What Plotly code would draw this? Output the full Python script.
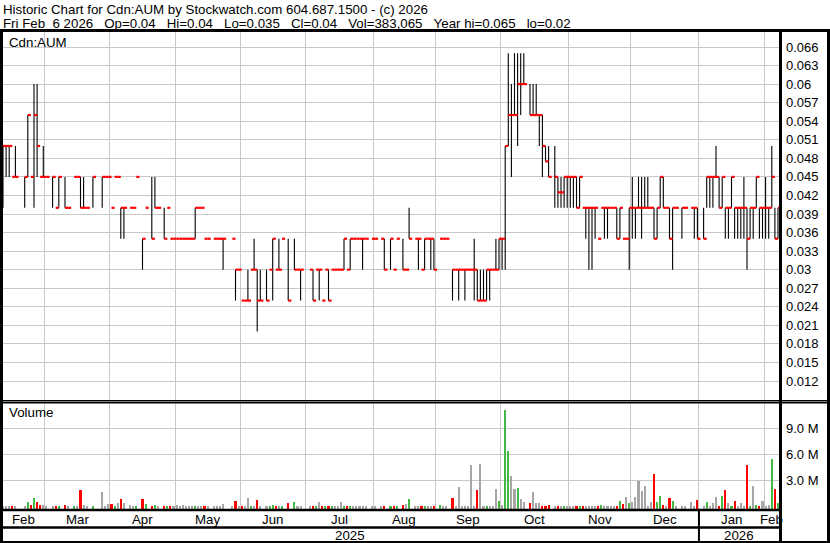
import pandas as pd
import plotly.graph_objects as go

N = None
W, H_PX = 830, 543

# ---------------- data ----------------
HOLIDAYS = ["2025-02-17", "2025-04-18", "2025-05-19", "2025-07-01", "2025-08-04",
            "2025-09-01", "2025-10-13", "2025-12-25", "2026-01-01"]
START_DATE = "2025-02-10"
END_DATE = "2026-02-06"

HIGH = [
    .05, .05, .05, .045, .05, N, N, .045, .055, .045,
    .06, .06, .045, .05, .045, N, .045, .04, .045, N,
    .045, .04, N, .045, .045, .045, .045, .04, N, .045,
    N, N, .045, .045, .045, .04, .045, .045, .04, .04,
    N, .04, .04, .045, N, .035, .04, N, .045, .045,
    .04, N, .04, .04, .035, .035, .035, .035, .035, .035,
    .035, .035, .04, .04, .04, .035, .035, N, .035, .035,
    .035, .035, N, N, .035, .03, .03, .025, .025, .03,
    .03, .035, .03, .03, N, .03, .03, .035, .03, .035,
    .035, N, .035, N, .035, .03, .03, N, N, .03,
    .03, .03, .03, .025, .03, .03, .03, .03, .03, .03,
    .035, .03, .035, .035, .035, .035, .035, .035, N, .035,
    .035, N, .035, .035, N, .035, .03, .035, N, .035,
    .03, .04, N, .035, .035, .03, .035, .035, .035, .035,
    N, .035, .035, .035, N, .03, .03, .03, .03, .03,
    .03, .03, .035, .03, .03, .03, .03, .03, .03, .035,
    .035, .035, .05, .065, .06, .065, .065, .065, .065, N,
    .06, .06, .06, .055, .055, .05, .05, N, .05, .045,
    .045, .045, .045, .045, .045, .045, .045, .04, .04, .04,
    .04, .04, .035, .04, .04, .04, .04, .04, .04, .04,
    .035, .035, .04, .045, .04, .045, .045, .045, .045, .04,
    .04, .04, .045, .045, .04, .04, .04, .04, N, .04,
    .04, N, .04, .04, .04, N, .04, .045, .045, .045,
    .05, .045, .045, .04, .04, .045, .04, .04, .04, .045,
    .04, .04, .04, .045, .04, .04, .045, .04, .05, .04,
    .04,
]

LOW = [
    .04, .045, .045, .045, .045, N, N, .04, .045, .045,
    .04, .045, .045, .045, .045, N, .04, .04, .04, N,
    .04, .04, N, .045, .045, .04, .04, .04, N, .04,
    N, N, .04, .045, .045, .04, .045, .045, .035, .035,
    N, .04, .04, .045, N, .03, .04, N, .035, .04,
    .04, N, .035, .04, .035, .035, .035, .035, .035, .035,
    .035, .035, .035, .04, .04, .035, .035, N, .035, .035,
    .035, .03, N, N, .035, .025, .03, .025, .025, .025,
    .03, .03, .02, .025, N, .025, .03, .025, .03, .03,
    .035, N, .025, N, .03, .03, .025, N, N, .03,
    .025, .03, .025, .025, .03, .025, .03, .03, .03, .03,
    .03, .03, .03, .035, .035, .035, .03, .035, N, .035,
    .035, N, .035, .03, N, .03, .03, .035, N, .03,
    .03, .035, N, .035, .03, .03, .03, .035, .03, .03,
    N, .035, .035, .035, N, .025, .03, .025, .03, .025,
    .03, .03, .025, .025, .025, .025, .025, .025, .03, .03,
    .03, .03, .03, .05, .045, .055, .05, .055, .06, N,
    .055, .055, .055, .05, .045, .0475, .045, N, .04, .04,
    .04, .04, .04, .04, .04, .04, .04, .04, .035, .03,
    .03, .035, .035, .04, .035, .035, .04, .04, .035, .035,
    .035, .035, .03, .035, .035, .04, .035, .04, .04, .04,
    .035, .035, .04, .04, .04, .035, .03, .04, N, .035,
    .04, N, .04, .035, .035, N, .035, .04, .04, .04,
    .045, .04, .04, .035, .035, .04, .035, .035, .035, .035,
    .03, .035, .035, .04, .035, .035, .035, .035, .04, .035,
    .035,
]

CLOSE = [
    .05, .05, .05, .045, .045, N, N, .045, .055, .045,
    .055, .05, .045, .045, .045, N, .045, .04, .045, N,
    .04, .04, N, .045, .045, .04, .04, .04, N, .045,
    N, N, .045, .045, .045, .04, .045, .045, .04, .04,
    N, .04, .04, .045, N, .035, .04, N, .035, .04,
    .04, N, .035, .04, .035, .035, .035, .035, .035, .035,
    .035, .035, .04, .04, .04, .035, .035, N, .035, .035,
    .035, .035, N, N, .035, .03, .03, .025, .025, .025,
    .03, .03, .025, .025, N, .025, .03, .035, .03, .03,
    .035, N, .025, N, .03, .03, .03, N, N, .03,
    .025, .03, .03, .025, .03, .025, .03, .03, .03, .03,
    .035, .03, .035, .035, .035, .035, .035, .035, N, .035,
    .035, N, .035, .03, N, .035, .03, .035, N, .03,
    .03, .035, N, .035, .035, .03, .035, .035, .035, .03,
    N, .035, .035, .035, N, .03, .03, .03, .03, .03,
    .03, .03, .03, .025, .025, .025, .03, .03, .03, .03,
    .035, .035, .05, .055, .055, .055, .06, .06, .06, N,
    .055, .055, .055, .055, .05, .0475, .045, N, .045, .0425,
    .0425, .045, .045, .045, .045, .04, .045, .04, .04, .04,
    .04, .04, .035, .04, .04, .04, .04, .04, .035, .04,
    .035, .035, .04, .04, .04, .04, .04, .04, .04, .04,
    .035, .04, .045, .04, .04, .035, .04, .04, N, .04,
    .04, N, .04, .04, .035, N, .035, .045, .045, .045,
    .045, .04, .045, .04, .04, .045, .04, .04, .04, .04,
    .035, .04, .04, .045, .04, .04, .04, .04, .045, .035,
    .04,
]

# volume in millions of shares
VOLUME_M = [
    .04, .04, .04, .04, .04, N, N, .02, .54, .19,
    1.0, .54, .19, .19, .04, N, .06, .02, .04, N,
    .15, .02, N, .02, .02, 1.92, .19, .04, N, .08,
    N, N, 1.7, .02, .27, .31, .04, .42, .88, .42,
    N, .19, .04, .02, N, .88, .31, N, .02, .15,
    .02, N, .02, .02, .04, .02, .19, .04, .19, .02,
    .02, .02, .04, .02, .02, .04, .02, N, .02, .02,
    .02, .31, N, N, .02, .65, .02, .04, .08, 1.0,
    .04, .04, .77, .04, N, .02, .02, .19, .02, .02,
    .02, N, .42, N, .54, .04, .04, N, N, .02,
    .02, .02, .54, .02, .02, .02, .02, .02, .04, .54,
    .04, .04, .02, .02, .02, .02, .02, .02, N, .04,
    .02, N, .02, .02, N, .04, .02, .02, N, .19,
    .31, .88, N, .02, .02, .04, .04, .04, .04, .02,
    N, .19, .02, .02, N, 1.0, .02, 2.2, .04, .02,
    .02, 4.77, .04, 1.9, 4.9, .04, .02, .04, .04, 2.0,
    .65, .19, 11.1, 6.4, 3.5, 2.0, 2.1, .88, .54, N,
    .42, 1.7, .42, .42, .04, .02, .19, N, .02, .04,
    .04, .04, .02, .04, .02, .04, .04, .02, .04, .02,
    .04, .02, .04, .19, .04, .02, .02, .02, .04, .65,
    .31, 1.1, .42, .54, 1.1, 2.96, 1.8, 2.35, .04, .54,
    3.73, .54, 1.2, .19, .02, 1.0, .65, .02, N, .04,
    .02, N, .5, .04, .77, N, .04, .5, .04, .42,
    1.1, .04, 1.2, 1.9, .42, .04, .65, .04, .42, .02,
    4.77, .04, 2.35, .15, .04, .65, .04, .15, 5.46, 2.0,
    .383065,
]

PRICE_TICKS = [0.012, 0.015, 0.018, 0.021, 0.024, 0.027, 0.03, 0.033, 0.036, 0.039,
               0.042, 0.045, 0.048, 0.051, 0.054, 0.057, 0.06, 0.063, 0.066]
PRICE_TICK_LABELS = ["0.012", "0.015", "0.018", "0.021", "0.024", "0.027", "0.03", "0.033",
                     "0.036", "0.039", "0.042", "0.045", "0.048", "0.051", "0.054", "0.057",
                     "0.06", "0.063", "0.066"]
VOL_TICKS = [3e6, 6e6, 9e6]
VOL_TICK_LABELS = ["3.0 M", "6.0 M", "9.0 M"]

TITLE_1 = "Historic Chart for Cdn:AUM by Stockwatch.com 604.687.1500 - (c) 2026"
TITLE_2 = ("Fri Feb\u00a0\u00a06 2026\u00a0\u00a0\u00a0Op=0.04\u00a0\u00a0\u00a0Hi=0.04\u00a0\u00a0\u00a0"
           "Lo=0.035\u00a0\u00a0\u00a0Cl=0.04\u00a0\u00a0\u00a0Vol=383,065\u00a0\u00a0\u00a0"
           "Year hi=0.065\u00a0\u00a0\u00a0lo=0.02")

# ---------------- helpers ----------------
FONT = "Liberation Sans, Arial, sans-serif"
GRID = "#c8c8c8"


def px(x):
    return x / W


def py(y):
    return 1 - y / H_PX


dates = pd.bdate_range(START_DATE, END_DATE)
dates = dates[~dates.isin(pd.to_datetime(HOLIDAYS))]
n = len(dates)
idx = list(range(n))

# month boundaries
months = pd.Series(idx, index=dates).groupby([dates.year, dates.month])
month_info = [(g.index[0], g.iloc[0], g.iloc[-1]) for _, g in months]
years = pd.Series(idx, index=dates).groupby(dates.year)
year_info = [(y, g.iloc[0], g.iloc[-1]) for y, g in years]

X0_PX, X1_PX = 3, 779
DAY_PX = 3.1
x_range = [0, (X1_PX - X0_PX) / DAY_PX]

# price panel
P_TOP, P_BOT = 32, 400
P_SCALE = (381 - 47) / (0.066 - 0.012)
p_range = [0.012 - (P_BOT - 381) / P_SCALE, 0.066 + (47 - P_TOP) / P_SCALE]
# volume panel
V_TOP, V_BOT = 403, 509
V_SCALE = 26 / 3e6
v_range = [-(V_BOT - 506.3) / V_SCALE, (506.3 - V_TOP) / V_SCALE]
VOL_BASE = v_range[0]

# ---------------- traces ----------------
xb, yb, xr, yr = [], [], [], []
for i in idx:
    h, l, c = HIGH[i], LOW[i], CLOSE[i]
    if h is None:
        continue
    if h > l:
        xb += [i, i, None]
        yb += [l, h, None]
    xr += [i, i + 1, None]
    yr += [c, c, None]

vols, vcols, vx = [], [], []
prev = None
for i in idx:
    c = CLOSE[i]
    v = VOLUME_M[i]
    if c is None or v is None:
        continue
    if prev is None or c == prev:
        col = "#a6a6a6"
    elif c > prev:
        col = "#44b844"
    else:
        col = "#ff0000"
    prev = c
    vx.append(i)
    vols.append(v * 1e6 - VOL_BASE)
    vcols.append(col)

fig = go.Figure()
fig.add_trace(go.Scatter(x=xb, y=yb, mode="lines", line=dict(color="black", width=1.1),
                         xaxis="x", yaxis="y", hoverinfo="skip"))
fig.add_trace(go.Scatter(x=xr, y=yr, mode="lines", line=dict(color="#ff0000", width=2.2),
                         xaxis="x", yaxis="y", hoverinfo="skip"))
fig.add_trace(go.Bar(x=vx, y=vols, base=VOL_BASE, marker=dict(color=vcols, line=dict(width=0)),
                     width=0.65, xaxis="x2", yaxis="y2", hoverinfo="skip"))

grid_x = [first - 0.5 for _, first, _ in month_info[1:]]

axis_common = dict(domain=[px(X0_PX), px(X1_PX)], range=x_range, tickvals=grid_x,
                   showticklabels=False, showgrid=True, gridcolor=GRID, gridwidth=1,
                   zeroline=False, showline=False, ticks="", fixedrange=True)

fig.update_layout(
    width=W, height=H_PX,
    margin=dict(l=0, r=0, t=0, b=0),
    paper_bgcolor="white", plot_bgcolor="white",
    showlegend=False, bargap=0,
    font=dict(family=FONT, size=13, color="black"),
    xaxis=dict(anchor="y", **axis_common),
    xaxis2=dict(anchor="y2", matches="x", **axis_common),
    yaxis=dict(domain=[py(P_BOT), py(P_TOP)], range=p_range, side="right", anchor="x",
               tickvals=PRICE_TICKS, ticktext=PRICE_TICK_LABELS, showgrid=True, gridcolor=GRID,
               zeroline=False, showline=False, ticks="", ticklabelstandoff=6,
               fixedrange=True, tickfont=dict(size=13, family=FONT)),
    yaxis2=dict(domain=[py(V_BOT), py(V_TOP)], range=v_range, side="right", anchor="x2",
                tickvals=VOL_TICKS, ticktext=VOL_TICK_LABELS, showgrid=True, gridcolor=GRID,
                zeroline=False, showline=False, ticks="", ticklabelstandoff=6,
                fixedrange=True, tickfont=dict(size=13, family=FONT)),
)

ann = []
ann.append(dict(text=TITLE_1, x=px(1), y=py(10), xref="paper", yref="paper",
                xanchor="left", yanchor="middle", showarrow=False, font=dict(size=13.3)))
ann.append(dict(text=TITLE_2, x=px(1), y=py(23), xref="paper", yref="paper",
                xanchor="left", yanchor="middle", showarrow=False, font=dict(size=13.3)))
ann.append(dict(text="Cdn:AUM", x=px(7), y=py(42), xref="paper", yref="paper",
                xanchor="left", yanchor="middle", showarrow=False, font=dict(size=13.3)))
ann.append(dict(text="Volume", x=px(7), y=py(413), xref="paper", yref="paper",
                xanchor="left", yanchor="middle", showarrow=False, font=dict(size=13.3)))
for d, first, last in month_info:
    ann.append(dict(text=d.strftime("%b"), x=(first + last) / 2, y=py(519), xref="x",
                    yref="paper", xanchor="center", yanchor="middle", showarrow=False,
                    font=dict(size=13.3)))
for yv, first, last in year_info:
    ann.append(dict(text=str(yv), x=(first + last) / 2, y=py(535), xref="x",
                    yref="paper", xanchor="center", yanchor="middle", showarrow=False,
                    font=dict(size=13.3)))
fig.update_layout(annotations=ann)

shapes = []


def hline(y, x0, x1, w):
    shapes.append(dict(type="line", xref="paper", yref="paper", x0=px(x0), x1=px(x1),
                       y0=py(y), y1=py(y), line=dict(color="black", width=w), layer="above"))


def vline(x, y0, y1, w):
    shapes.append(dict(type="line", xref="paper", yref="paper", x0=px(x), x1=px(x),
                       y0=py(y0), y1=py(y1), line=dict(color="black", width=w), layer="above"))


hline(30.5, 0, 830, 3)
hline(400.5, 0, 830, 1)
hline(402.5, 0, 830, 2)
hline(510, 0, 781, 2.5)
hline(527.5, 0, 781, 2.5)
hline(542, 0, 830, 2)
vline(1.5, 29, 543, 3)
vline(780.5, 29, 543, 3)
vline(828.5, 29, 543, 3)
for yv, first, last in year_info[1:]:
    shapes.append(dict(type="line", xref="x", yref="paper", x0=first - 0.5, x1=first - 0.5,
                       y0=py(510), y1=py(543), line=dict(color="black", width=2), layer="above"))
fig.update_layout(shapes=shapes)

fig.write_html("out.html", config={"displayModeBar": False},
               post_script="document.body.style.margin='0px';")
